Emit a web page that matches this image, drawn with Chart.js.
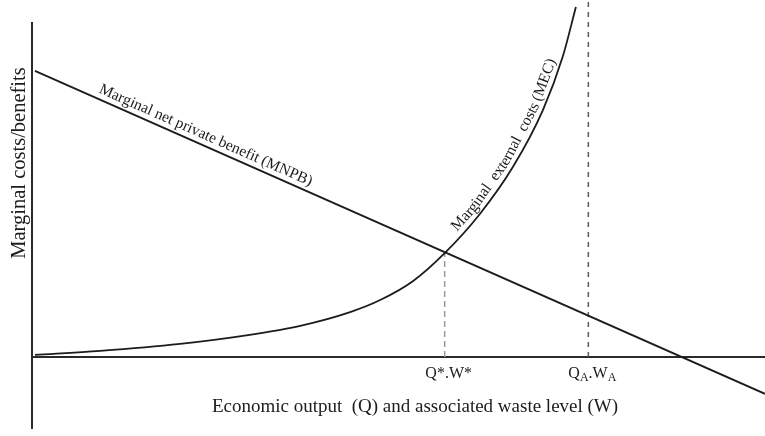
<!DOCTYPE html>
<html>
<head>
<meta charset="utf-8">
<script src="https://cdn.jsdelivr.net/npm/chart.js@4.4.0/dist/chart.umd.min.js"></script>
<style>
html, body { margin: 0; padding: 0; background: #fff; }
#wrap { width: 765px; height: 436px; }
</style>
</head>
<body>
<div id="wrap"><canvas id="my_canvas" width="765" height="436"></canvas></div>
<script>
// marginal external costs curve
var mecX = [0.4, 9.3, 20.2, 29.7, 36.6, 43.4, 47.5, 52.0, 56.3, 61.1, 65.6, 69.7, 72.4, 74.2];
var mecY = [0.6, 1.8, 3.9, 6.6, 9.3, 13.4, 17.0, 22.7, 31.0, 42.7, 56.7, 73.7, 89.6, 104.5];

// marginal net private benefit (straight line)
var mnpbX = [0.4, 100];
var mnpbY = [85.4, -11.0];

// dashed guides and their labels on the output axis
var guideX = [56.3, 75.9];
var guideTop = [31.3, 106.6];
var tickLabels = ['Q*.W*', 'Q_A.W_A'];

var xTitle = 'Economic output  (Q) and associated waste level (W)';
var yTitle = 'Marginal costs/benefits';
var mnpbLabel = 'Marginal net private benefit (MNPB)';
var mecLabel = 'Marginal  external  costs (MEC)';

var SERIF = '"Liberation Serif", "Times New Roman", serif';
var INK = '#1c1c1c';

function pts(xs, ys) {
    var out = [];
    for (var i = 0; i < xs.length; i++) out.push({x: xs[i], y: ys[i]});
    return out;
}

// writes text char by char along a polyline of pixel points
function textOnPath(ctx, line, text, startPx, offset) {
    var seg = [], total = 0;
    for (var i = 1; i < line.length; i++) {
        var dx = line[i].x - line[i - 1].x, dy = line[i].y - line[i - 1].y;
        var l = Math.sqrt(dx * dx + dy * dy);
        seg.push({ax: line[i - 1].x, ay: line[i - 1].y, dx: dx, dy: dy, len: l, s: total});
        total += l;
    }
    function at(s) {
        for (var k = 0; k < seg.length; k++) {
            var g = seg[k];
            if (s <= g.s + g.len || k == seg.length - 1) {
                var t = (s - g.s) / g.len;
                return {x: g.ax + g.dx * t, y: g.ay + g.dy * t};
            }
        }
    }
    var s = 0;
    for (var k = 0; k < seg.length; k++) {
        var g = seg[k];
        if (startPx >= g.ax && startPx <= g.ax + g.dx) {
            s = g.s + (startPx - g.ax) / g.dx * g.len;
            break;
        }
    }
    ctx.textAlign = 'center';
    ctx.textBaseline = 'alphabetic';
    for (var c = 0; c < text.length; c++) {
        var ch = text[c];
        var w = ctx.measureText(ch).width;
        var mid = s + w / 2;
        var p = at(mid), p1 = at(mid - 6), p2 = at(mid + 6);
        var ang = Math.atan2(p2.y - p1.y, p2.x - p1.x);
        ctx.save();
        ctx.translate(p.x, p.y);
        ctx.rotate(ang);
        ctx.fillText(ch, 0, -offset);
        ctx.restore();
        s += w;
    }
}

var axesPlugin = {
    id: 'axesLines',
    beforeDatasetsDraw: function(chart) {
        var ctx = chart.ctx, xs = chart.scales.x, ys = chart.scales.y;
        ctx.save();
        ctx.strokeStyle = '#2a2a2a';
        ctx.lineWidth = 2;
        ctx.beginPath();
        ctx.moveTo(xs.getPixelForValue(0), ys.getPixelForValue(ys.max));
        ctx.lineTo(xs.getPixelForValue(0), ys.getPixelForValue(ys.min));
        ctx.moveTo(xs.getPixelForValue(xs.min), ys.getPixelForValue(0));
        ctx.lineTo(xs.getPixelForValue(xs.max), ys.getPixelForValue(0));
        ctx.stroke();
        ctx.restore();
    },
    afterDatasetsDraw: function(chart) {
        var ctx = chart.ctx, xs = chart.scales.x, ys = chart.scales.y;
        var y0 = ys.getPixelForValue(0);
        ctx.save();
        ctx.fillStyle = INK;

        // axis titles
        ctx.font = '19px ' + SERIF;
        ctx.textAlign = 'center';
        ctx.textBaseline = 'alphabetic';
        ctx.fillText(xTitle, 415, 412);

        ctx.save();
        ctx.font = '20.5px ' + SERIF;
        ctx.translate(25, 163);
        ctx.rotate(-Math.PI / 2);
        ctx.fillText(yTitle, 0, 0);
        ctx.restore();

        // labels under the guides, "_X" means subscript X
        for (var i = 0; i < guideX.length; i++) {
            var lab = tickLabels[i], parts = [];
            for (var j = 0; j < lab.length; j++) {
                if (lab[j] == '_') { parts.push({t: lab[j + 1], sub: true}); j++; }
                else parts.push({t: lab[j], sub: false});
            }
            var tw = 0;
            parts.forEach(function(p) {
                ctx.font = (p.sub ? '12px ' : '16px ') + SERIF;
                p.w = ctx.measureText(p.t).width;
                tw += p.w;
            });
            var px = xs.getPixelForValue(guideX[i]) + 4 - tw / 2;
            ctx.textAlign = 'left';
            parts.forEach(function(p) {
                ctx.font = (p.sub ? '12px ' : '16px ') + SERIF;
                ctx.fillText(p.t, px, y0 + 21 + (p.sub ? 3 : 0));
                px += p.w;
            });
        }

        // labels along the curves
        ctx.font = '15.5px ' + SERIF;
        var mnpbPts = chart.getDatasetMeta(1).data.map(function(e) { return {x: e.x, y: e.y}; });
        textOnPath(ctx, mnpbPts, mnpbLabel, xs.getPixelForValue(8.7), 6);
        var mecPts = chart.getDatasetMeta(0).data.map(function(e) { return {x: e.x, y: e.y}; });
        textOnPath(ctx, mecPts, mecLabel, xs.getPixelForValue(58.5), 5);

        ctx.restore();
    }
};

var ctx = document.getElementById('my_canvas');

var chartdata = {
    datasets: [
        {
            label: 'MEC',
            data: pts(mecX, mecY),
            borderColor: INK,
            borderWidth: 1.8,
            pointRadius: 0,
            cubicInterpolationMode: 'monotone',
            clip: false
        },
        {
            label: 'MNPB',
            data: pts(mnpbX, mnpbY),
            borderColor: INK,
            borderWidth: 1.8,
            pointRadius: 0,
            clip: false
        },
        {
            label: 'Q*',
            data: pts([guideX[0], guideX[0]], [0, guideTop[0]]),
            borderColor: '#9a9a9a',
            borderWidth: 1.5,
            borderDash: [6, 4],
            pointRadius: 0,
            clip: false
        },
        {
            label: 'QA',
            data: pts([guideX[1], guideX[1]], [0, guideTop[1]]),
            borderColor: '#5a5a5a',
            borderWidth: 1.5,
            borderDash: [5, 5],
            pointRadius: 0,
            clip: false
        }
    ]
};

var chart = new Chart(ctx, {
    type: 'line',
    data: chartdata,
    options: {
        responsive: false,
        animation: false,
        devicePixelRatio: 1,
        layout: { padding: { left: 32, top: 22, right: 0, bottom: 7 } },
        plugins: { legend: { display: false }, tooltip: { enabled: false } },
        scales: {
            x: { type: 'linear', display: false, min: 0, max: 100 },
            y: { type: 'linear', display: false, min: -21.5, max: 100 }
        }
    },
    plugins: [axesPlugin]
});
</script>
</body>
</html>
